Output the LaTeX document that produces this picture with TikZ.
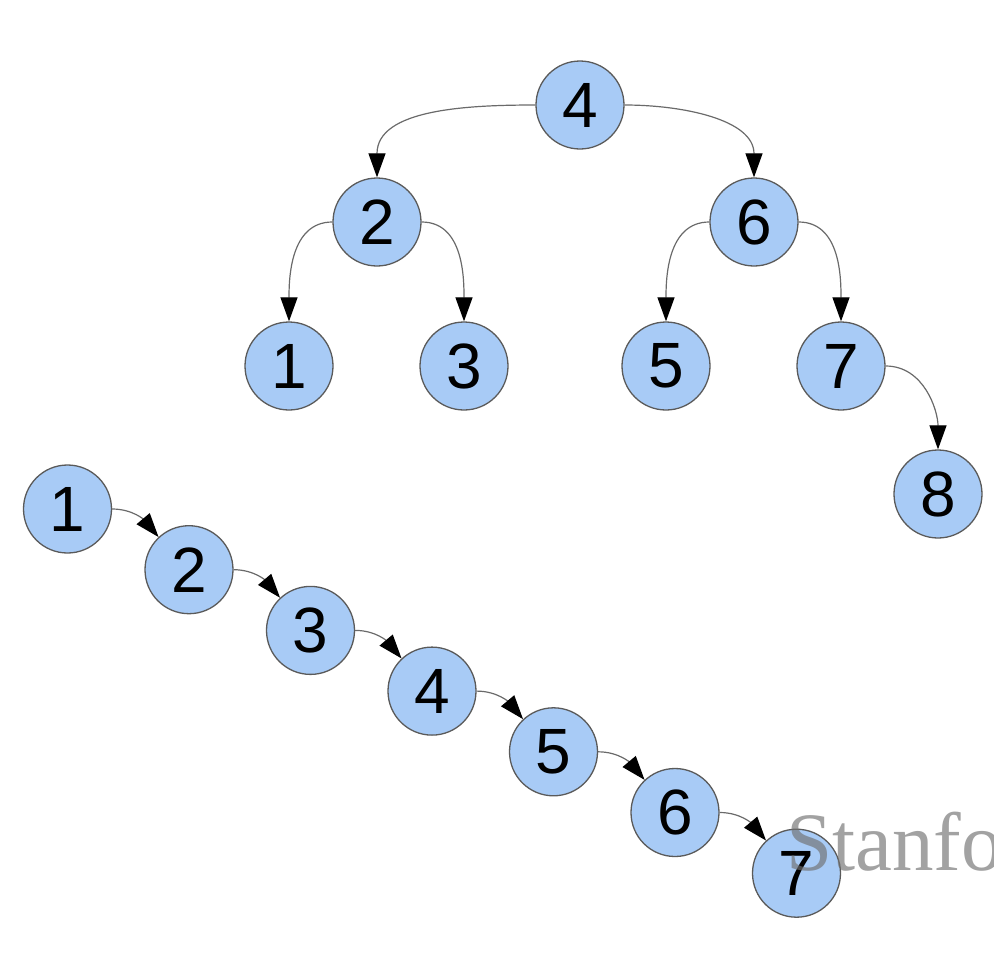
\documentclass[tikz,border=0pt]{standalone}
\usepackage{fontspec}
\setmainfont{Liberation Sans}
\newfontfamily\wmfont{Liberation Serif}
\usetikzlibrary{arrows.meta}
\definecolor{nodec}{HTML}{A8CBF6}
\definecolor{bordc}{HTML}{5A5A5A}
\definecolor{edgec}{HTML}{6A6A6A}
\definecolor{wmc}{HTML}{707070}
\begin{document}
\begin{tikzpicture}[x=1pt,y=-1pt,
  nd/.style={circle, draw=bordc, fill=nodec, line width=1.3pt, minimum size=88pt, inner sep=0pt, font=\fontsize{64}{64}\selectfont},
  arr/.style={draw=edgec, line width=1.2pt, -{Triangle[length=24pt,width=17pt,color=black]}}]
\useasboundingbox (0,0) rectangle (994,970);
\clip (0,0) rectangle (994,970);
% tree
\node[nd] (t4) at (580,105) {4};
\node[nd] (t2) at (377,222) {2};
\node[nd] (t6) at (754,222) {6};
\node[nd] (t1) at (289,366) {1};
\node[nd] (t3) at (464,366) {3};
\node[nd] (t5) at (666,366) {5};
\node[nd] (t7) at (841,366) {7};
\node[nd] (t8) at (938,494) {8};
\draw[arr] (t4.west) to[out=180,in=90] (t2.north);
\draw[arr] (t4.east) to[out=0,in=90] (t6.north);
\draw[arr] (t2.west) to[out=180,in=90] (t1.north);
\draw[arr] (t2.east) to[out=0,in=90] (t3.north);
\draw[arr] (t6.west) to[out=180,in=90] (t5.north);
\draw[arr] (t6.east) to[out=0,in=90] (t7.north);
\draw[arr] (t7.east) to[out=0,in=90] (t8.north);
% chain
\foreach \i in {1,...,7} {
  \node[nd] (c\i) at ({67.5+121.5*(\i-1)},{509+60.7*(\i-1)}) {\i};
}
\foreach \i [evaluate=\i as \j using int(\i+1)] in {1,...,6} {
  \draw[arr] (c\i.east) to[out=0,in=130] (c\j.133);
}
% watermark
\node[anchor=base west, inner sep=0pt, text=wmc, opacity=0.65, font=\wmfont\fontsize{83}{83}\selectfont] (wm) at (786,870) {Stanford};
\end{tikzpicture}
\end{document}
